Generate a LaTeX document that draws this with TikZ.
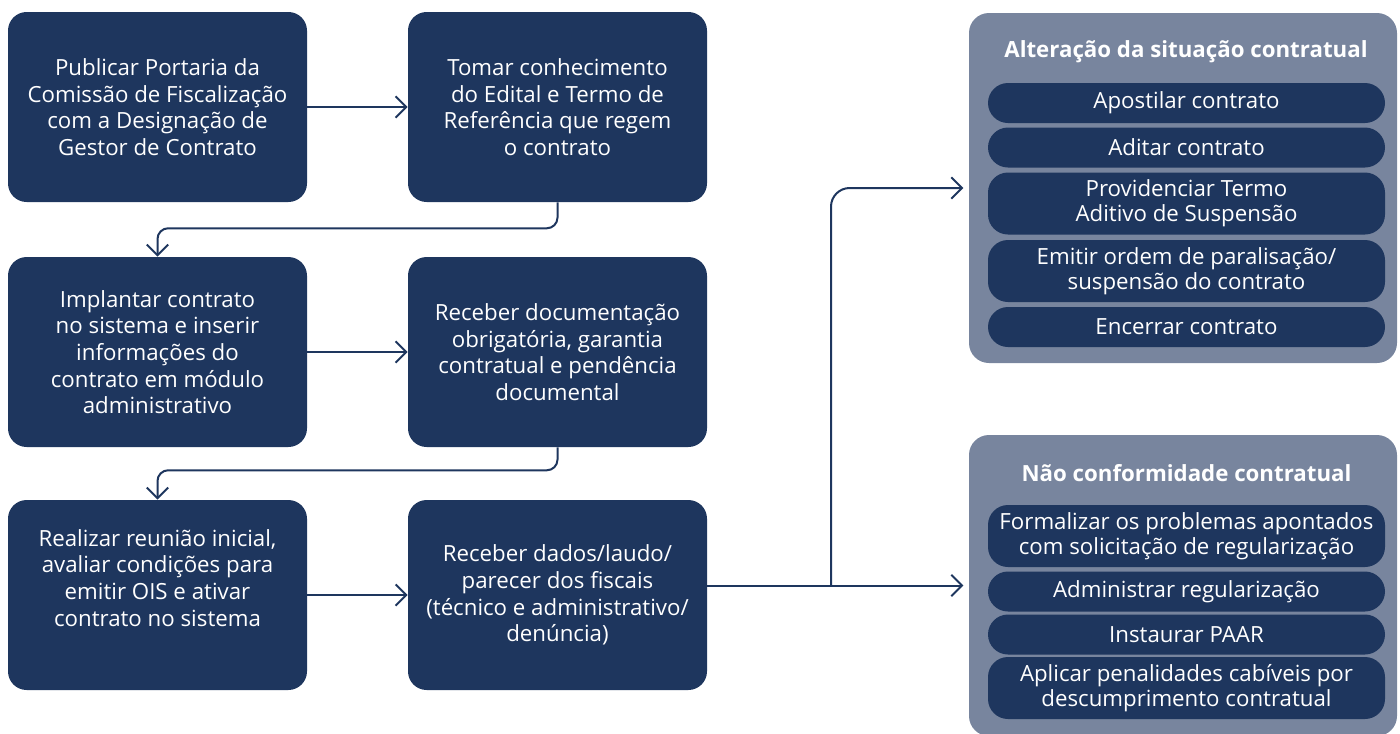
\documentclass[tikz,border=0pt]{standalone}
\usepackage{fontspec}
\setmainfont{Open Sans}
\usetikzlibrary{arrows.meta}
\definecolor{navy}{RGB}{30,54,94}
\definecolor{panelgray}{RGB}{120,133,158}

\begin{document}
\begin{tikzpicture}[x=0.75pt, y=-0.75pt,
    stepbox/.style={fill=navy, text=white, rounded corners=14pt, minimum width=224.25pt, minimum height=142.5pt, align=center, font=\fontsize{16.7}{20}\selectfont},
    panel/.style={fill=panelgray, rounded corners=15pt, minimum width=321pt},
    paneltitle/.style={text=white, font=\fontsize{16.7}{20}\selectfont\bfseries},
    pill/.style={fill=navy, text=white, rounded corners=15pt, minimum width=297.75pt, minimum height=30pt, inner sep=0pt, align=center, font=\fontsize{16.7}{18.75}\selectfont},
    flow/.style={draw=navy, line width=1.5pt, -{Straight Barb[length=8pt,width=16pt]}}]
        \def\colA{157.5}; % Centre of the left column
        \def\colB{557.5}; % Centre of the middle column
        \def\pillx{1186.5}; % Centre of the pills
        \useasboundingbox (0,0) rectangle (1400,733);

        % Steps of the process
        \node[stepbox] (portaria) at (\colA,107) {Publicar Portaria da\\Comissão de Fiscalização\\com a Designação de\\Gestor de Contrato};
        \node[stepbox] (edital) at (\colB,107) {Tomar conhecimento\\do Edital e Termo de\\Referência que regem\\o contrato};
        \node[stepbox] (implantar) at (\colA,352) {Implantar contrato\\no sistema e inserir\\informações do\\contrato em módulo\\administrativo};
        \node[stepbox] (documentos) at (\colB,352) {Receber documentação\\obrigatória, garantia\\contratual e pendência\\documental};
        \node[stepbox, text depth=26pt] (reuniao) at (\colA,595) {Realizar reunião inicial,\\avaliar condições para\\emitir OIS e ativar\\contrato no sistema};
        \node[stepbox] (pareceres) at (\colB,595) {Receber dados/laudo/\\parecer dos fiscais\\(técnico e administrativo/\\denúncia)};

        % Panels on the right
        \node[panel, minimum height=262.5pt] (alteracao) at (1183,188) {};
        \node[panel, minimum height=225.75pt] (naoconf) at (1183,585.5) {};
        \node[paneltitle] (alteracaotitulo) at (1186,52) {Alteração da situação contratual};
        \node[paneltitle] (naoconftitulo) at (1186.5,473) {Não conformidade contratual};

        % Actions of the first panel
        \node[pill] (apostilar) at (\pillx,103) {Apostilar contrato};
        \node[pill] (aditar) at (\pillx,147.5) {Aditar contrato};
        \node[pill, minimum height=46.5pt] (termo) at (\pillx,203.5) {Providenciar Termo\\Aditivo de Suspensão};
        \node[pill, minimum height=46.5pt] (paralisacao) at (\pillx,271) {Emitir ordem de paralisação/\\suspensão do contrato};
        \node[pill] (encerrar) at (\pillx,327) {Encerrar contrato};

        % Actions of the second panel
        \node[pill, minimum height=46.5pt] (formalizar) at (\pillx,536) {Formalizar os problemas apontados\\com solicitação de regularização};
        \node[pill] (administrar) at (\pillx,591.5) {Administrar regularização};
        \node[pill] (paar) at (\pillx,634.5) {Instaurar PAAR};
        \node[pill, minimum height=46.5pt] (penalidades) at (\pillx,688) {Aplicar penalidades cabíveis por\\descumprimento contratual};

        % Connectors
        \draw[flow] (portaria) -- (edital);
        \draw[flow, rounded corners=8pt] (edital.south) -- ++(0,26) -| (implantar.north);
        \draw[flow] (implantar) -- (documentos);
        \draw[flow, rounded corners=8pt] (documentos.south) -- ++(0,23) -| (reuniao.north);
        \draw[flow] (reuniao) -- (pareceres);
        \coordinate (split) at (831,0 |- naoconf.west);
        \draw[flow, shorten >=4pt] (pareceres.east |- naoconf.west) -- (naoconf.west);
        \draw[flow, shorten >=4pt, rounded corners=14pt] (split) |- (alteracao.west);
    \end{tikzpicture}
\end{document}
